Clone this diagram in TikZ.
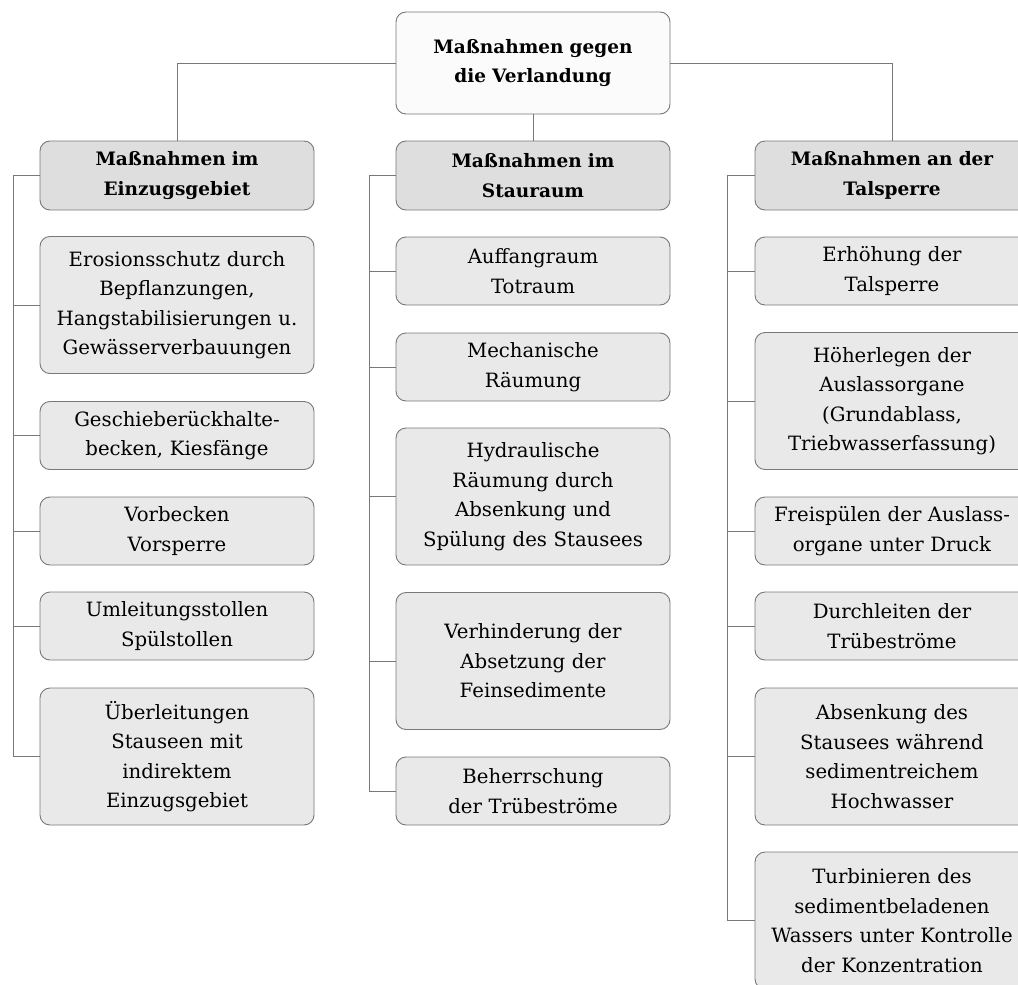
\documentclass[tikz,border=0pt]{standalone}
\usepackage{fontspec}
\setmainfont{DejaVu Serif}
\usepackage{tikz}
\usetikzlibrary{positioning,calc}
\definecolor{linegray}{RGB}{120,120,120}
\definecolor{topfill}{RGB}{251,251,251}
\definecolor{headfill}{RGB}{222,222,222}
\definecolor{itemfill}{RGB}{233,233,233}

\tikzset{
  box/.style={draw=linegray, line width=0.9pt, rounded corners=10pt,
    minimum width=274pt, text width=270pt, align=center, inner sep=0pt,
    font=\fontsize{19.7}{29.5}\selectfont},
  rootbox/.style={box, fill=topfill, minimum height=102pt,
    font=\fontsize{18.5}{29.5}\selectfont\bfseries},
  headbox/.style={box, fill=headfill, minimum height=69pt,
    font=\fontsize{18.5}{29.5}\selectfont\bfseries},
  itembox/.style={box, fill=itemfill, minimum height=68pt},
  tallbox/.style={box, fill=itemfill, minimum height=137pt},
  link/.style={draw=linegray, line width=0.9pt}
}

\begin{document}
\begin{tikzpicture}[x=1pt, y=-1pt]
\useasboundingbox (0,0) rectangle (1018,985);
% root
\node[rootbox] (root) at (533,63) {Maßnahmen gegen\\die Verlandung};
% column heads
\node[headbox] (hl) at (177,175.5) {Maßnahmen im\\Einzugsgebiet};
\node[headbox] (hm) at (533,175.5) {Maßnahmen im\\Stauraum};
\node[headbox] (hr) at (892,175.5) {Maßnahmen an der\\Talsperre};
% left column
\node[tallbox] (ero) at (177,305) {Erosionsschutz durch\\Bepflanzungen,\\Hangstabilisierungen u.\\Gewässerverbauungen};
\node[itembox] (ges) at (177,435.5) {Geschieberückhalte-\\becken, Kiesfänge};
\node[itembox] (vor) at (177,531) {Vorbecken\\Vorsperre};
\node[itembox] (uml) at (177,626) {Umleitungsstollen\\Spülstollen};
\node[tallbox] (ueb) at (177,756.5) {Überleitungen\\Stauseen mit\\indirektem\\Einzugsgebiet};
% middle column
\node[itembox] (auf) at (533,271) {Auffangraum\\Totraum};
\node[itembox] (mech) at (533,367) {Mechanische\\Räumung};
\node[tallbox] (hyd) at (533,496.5) {Hydraulische\\Räumung durch\\Absenkung und\\Spülung des Stausees};
\node[tallbox] (verh) at (533,661) {Verhinderung der\\Absetzung der\\Feinsedimente};
\node[itembox] (beh) at (533,791) {Beherrschung\\der Trübeströme};
% right column
\node[itembox] (erh) at (892,271) {Erhöhung der\\Talsperre};
\node[tallbox] (hoe) at (892,401) {Höherlegen der\\Auslassorgane\\(Grundablass,\\Triebwasserfassung)};
\node[itembox] (frei) at (892,531) {Freispülen der Auslass-\\organe unter Druck};
\node[itembox] (durch) at (892,626) {Durchleiten der\\Trübeströme};
\node[tallbox] (abs) at (892,756.5) {Absenkung des\\Stausees während\\sedimentreichem\\Hochwasser};
\node[tallbox] (turb) at (892,920.5) {Turbinieren des\\sedimentbeladenen\\Wassers unter Kontrolle\\der Konzentration};

% connectors from the root
\draw[link] (root.west) -| (hl.north);
\draw[link] (root.south) -- (hm.north);
\draw[link] (root.east) -| (hr.north);

% column spines
\draw[link] (hl.west) -- ++(-26,0) |- (ueb.west);
\foreach \n in {ero,ges,vor,uml}
  \draw[link] (\n.west) -- ++(-26,0);
\draw[link] (hm.west) -- ++(-26,0) |- (beh.west);
\foreach \n in {auf,mech,hyd,verh}
  \draw[link] (\n.west) -- ++(-26,0);
\draw[link] (hr.west) -- ++(-27,0) |- (turb.west);
\foreach \n in {erh,hoe,frei,durch,abs}
  \draw[link] (\n.west) -- ++(-27,0);
\end{tikzpicture}
\end{document}
